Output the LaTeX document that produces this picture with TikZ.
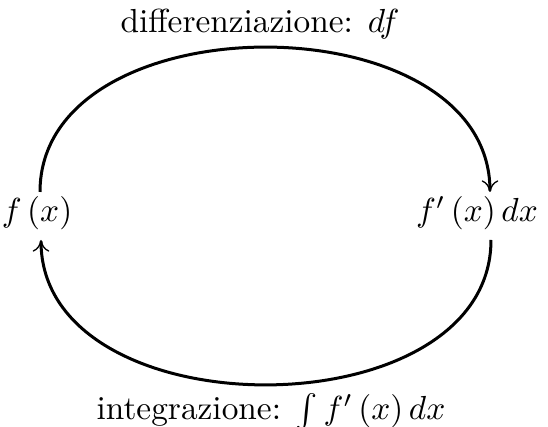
\documentclass[tikz,border=0pt]{standalone}
\usetikzlibrary{arrows.meta}
\begin{document}
\begin{tikzpicture}[x=0.3pt,y=-0.3pt,
  arc/.style={line width=0.9pt},
  tip/.style={-{To[length=3.5pt,width=5pt,line width=0.4pt]}},
  lbl/.style={inner sep=0pt}]
\useasboundingbox (0,0) rectangle (548,427);
\node[lbl] (fx) at (37,213) {$f\left(x\right)$};
\node[lbl] (dfx) at (477,213) {$f'\left(x\right)dx$};
\node[lbl, anchor=base] (top) at (260,33) {differenziazione: $df$};
\node[lbl, anchor=base] (bot) at (271,420) {integrazione: $\int f'\left(x\right)dx$};
\coordinate (a1) at (40,192);
\coordinate (b1) at (490,192);
\coordinate (b2) at (491,240);
\coordinate (a2) at (41,240);
\draw[arc,tip] (a1) .. controls (40,-1) and (490,-1) .. (b1);
\draw[arc,tip] (b2) .. controls (491,433) and (41,433) .. (a2);
\end{tikzpicture}
\end{document}
